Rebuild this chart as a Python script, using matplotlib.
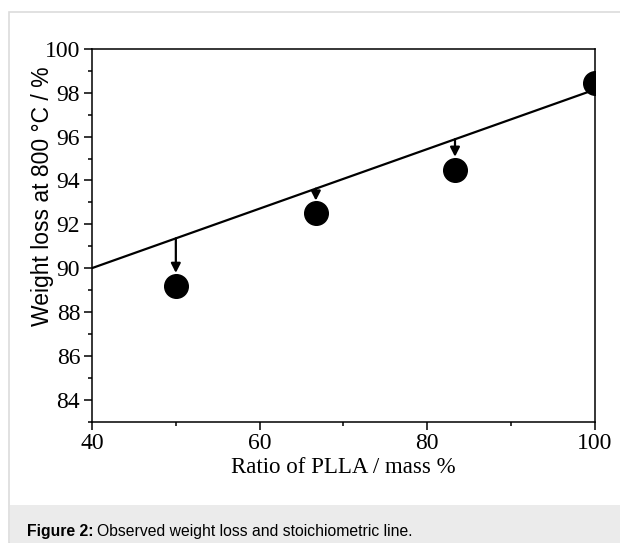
import numpy as np
import matplotlib.pyplot as plt
from matplotlib.patches import Rectangle
from matplotlib.ticker import MultipleLocator

# observed weight loss
ratio = [50.0, 66.7, 83.3, 100.0]
weight_loss = [89.2, 92.5, 94.5, 98.45]

# stoichiometric line
line_x = [40, 100]
line_y = [90.0, 98.15]

xticks = [40, 60, 80, 100]
yticks = [84, 86, 88, 90, 92, 94, 96, 98, 100]

W, H = 620, 543
fig = plt.figure(figsize=(W / 100, H / 100), dpi=100)

# outer frame and caption band
fig.patches.append(Rectangle((9 / W, 0), 1, 1 - 12 / H, transform=fig.transFigure,
                             facecolor='white', edgecolor='#dcdcdc', lw=1.2, zorder=-10))
fig.patches.append(Rectangle((9.6 / W, 0), 1, 38 / H, transform=fig.transFigure,
                             facecolor='#ebebeb', edgecolor='none', zorder=-9))

ax = fig.add_axes([92 / W, 1 - 421.5 / H, (595 - 92) / W, (421.5 - 49) / H])
ax.set_zorder(1)

ax.plot(line_x, line_y, color='black', lw=1.6, zorder=2)
ax.plot(ratio, weight_loss, 'o', color='black', ms=17, zorder=4)

for x, y in zip(ratio[:-1], weight_loss[:-1]):
    y_line = np.interp(x, line_x, line_y)
    ax.annotate('', xy=(x, y), xytext=(x, y_line),
                arrowprops=dict(arrowstyle='-|>,head_length=0.55,head_width=0.28',
                                color='black', lw=1.6, shrinkA=0, shrinkB=9.2),
                zorder=3)

ax.set_xlim(40, 100)
ax.set_ylim(83, 100)
ax.set_xticks(xticks)
ax.set_yticks(yticks)
ax.xaxis.set_minor_locator(MultipleLocator(10))
ax.yaxis.set_minor_locator(MultipleLocator(1))
ax.tick_params(which='both', direction='out', top=False, right=False, width=1.1)
ax.tick_params(which='major', length=5.5, pad=3)
ax.tick_params(which='minor', length=3)
for s in ax.spines.values():
    s.set_linewidth(1.1)

for lab in ax.get_xticklabels() + ax.get_yticklabels():
    lab.set_fontfamily('Liberation Serif')
    lab.set_fontsize(17)

ax.set_xlabel('Ratio of PLLA / mass %', fontfamily='Liberation Serif', fontsize=16.5, labelpad=2)
ax.set_ylabel('Weight loss at 800 °C / %', fontfamily='Liberation Sans', fontsize=16.5)
ax.yaxis.set_label_coords(-0.075, 0.605)

# caption
r = fig.canvas.get_renderer()
t1 = fig.text(27 / W, 1 - 536 / H, 'Figure 2:', fontfamily='Liberation Sans',
              fontweight='bold', fontsize=11.3, va='baseline')
bb = t1.get_window_extent(renderer=r)
fig.text(bb.x1 / W + 3 / W, 1 - 536 / H, 'Observed weight loss and stoichiometric line.',
         fontfamily='Liberation Sans', fontsize=11.3, va='baseline')

fig.savefig('out.png', dpi=100)
